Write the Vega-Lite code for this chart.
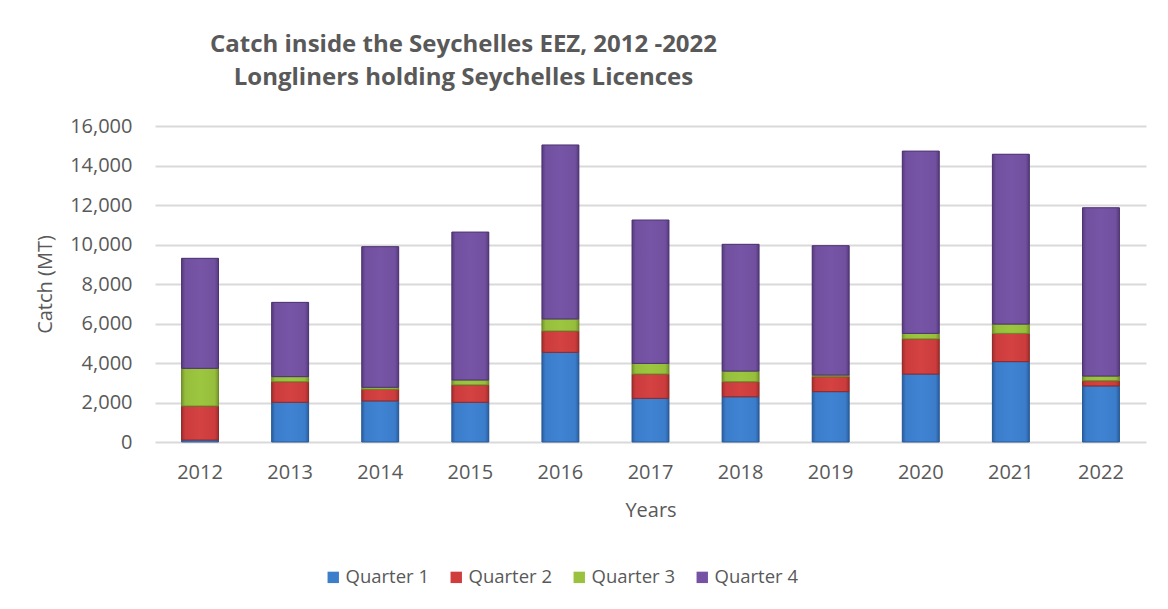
{
  "$schema": "https://vega.github.io/schema/vega-lite/v6.json",
  "width": 991,
  "height": 316,
  "autosize": "none",
  "padding": {"left": 155, "top": 126, "right": 22, "bottom": 167},
  "background": "white",
  "title": {
    "text": ["Catch inside the Seychelles EEZ, 2012 -2022", "Longliners holding Seychelles Licences"],
    "anchor": "middle",
    "dx": -187,
    "offset": 26,
    "font": "Open Sans",
    "fontSize": 24,
    "fontWeight": "bold",
    "color": "#595959",
    "lineHeight": 33
  },
  "data": {
    "values": [
      {"Year": "2012", "Quarter": "Quarter 1", "Catch": 100},
      {"Year": "2012", "Quarter": "Quarter 2", "Catch": 1720},
      {"Year": "2012", "Quarter": "Quarter 3", "Catch": 1910},
      {"Year": "2012", "Quarter": "Quarter 4", "Catch": 5570},
      {"Year": "2013", "Quarter": "Quarter 1", "Catch": 2010},
      {"Year": "2013", "Quarter": "Quarter 2", "Catch": 1040},
      {"Year": "2013", "Quarter": "Quarter 3", "Catch": 260},
      {"Year": "2013", "Quarter": "Quarter 4", "Catch": 3760},
      {"Year": "2014", "Quarter": "Quarter 1", "Catch": 2080},
      {"Year": "2014", "Quarter": "Quarter 2", "Catch": 590},
      {"Year": "2014", "Quarter": "Quarter 3", "Catch": 100},
      {"Year": "2014", "Quarter": "Quarter 4", "Catch": 7120},
      {"Year": "2015", "Quarter": "Quarter 1", "Catch": 2010},
      {"Year": "2015", "Quarter": "Quarter 2", "Catch": 880},
      {"Year": "2015", "Quarter": "Quarter 3", "Catch": 250},
      {"Year": "2015", "Quarter": "Quarter 4", "Catch": 7490},
      {"Year": "2016", "Quarter": "Quarter 1", "Catch": 4540},
      {"Year": "2016", "Quarter": "Quarter 2", "Catch": 1080},
      {"Year": "2016", "Quarter": "Quarter 3", "Catch": 610},
      {"Year": "2016", "Quarter": "Quarter 4", "Catch": 8810},
      {"Year": "2017", "Quarter": "Quarter 1", "Catch": 2210},
      {"Year": "2017", "Quarter": "Quarter 2", "Catch": 1230},
      {"Year": "2017", "Quarter": "Quarter 3", "Catch": 540},
      {"Year": "2017", "Quarter": "Quarter 4", "Catch": 7260},
      {"Year": "2018", "Quarter": "Quarter 1", "Catch": 2290},
      {"Year": "2018", "Quarter": "Quarter 2", "Catch": 760},
      {"Year": "2018", "Quarter": "Quarter 3", "Catch": 540},
      {"Year": "2018", "Quarter": "Quarter 4", "Catch": 6420},
      {"Year": "2019", "Quarter": "Quarter 1", "Catch": 2550},
      {"Year": "2019", "Quarter": "Quarter 2", "Catch": 760},
      {"Year": "2019", "Quarter": "Quarter 3", "Catch": 80},
      {"Year": "2019", "Quarter": "Quarter 4", "Catch": 6550},
      {"Year": "2020", "Quarter": "Quarter 1", "Catch": 3440},
      {"Year": "2020", "Quarter": "Quarter 2", "Catch": 1780},
      {"Year": "2020", "Quarter": "Quarter 3", "Catch": 280},
      {"Year": "2020", "Quarter": "Quarter 4", "Catch": 9230},
      {"Year": "2021", "Quarter": "Quarter 1", "Catch": 4070},
      {"Year": "2021", "Quarter": "Quarter 2", "Catch": 1430},
      {"Year": "2021", "Quarter": "Quarter 3", "Catch": 470},
      {"Year": "2021", "Quarter": "Quarter 4", "Catch": 8600},
      {"Year": "2022", "Quarter": "Quarter 1", "Catch": 2840},
      {"Year": "2022", "Quarter": "Quarter 2", "Catch": 260},
      {"Year": "2022", "Quarter": "Quarter 3", "Catch": 240},
      {"Year": "2022", "Quarter": "Quarter 4", "Catch": 8520}
    ]
  },
  "transform": [
    {"stack": "Catch", "groupby": ["Year"], "sort": [{"field": "Quarter", "order": "ascending"}], "as": ["lo", "hi"]}
  ],
  "encoding": {
    "x": {
      "field": "Year",
      "type": "ordinal",
      "scale": {"paddingInner": 0.59, "paddingOuter": 0.295},
      "axis": {
        "title": "Years",
        "labelAngle": 0,
        "domain": false,
        "ticks": false,
        "labelPadding": 20,
        "titlePadding": 18,
        "labelFont": "Open Sans",
        "labelFontSize": 20,
        "labelColor": "#595959",
        "titleFont": "Open Sans",
        "titleFontSize": 20,
        "titleFontWeight": "normal",
        "titleColor": "#595959"
      }
    },
    "y": {
      "field": "hi",
      "type": "quantitative",
      "scale": {"domain": [0, 16000], "nice": false},
      "axis": {
        "title": "Catch (MT)",
        "values": [0, 2000, 4000, 6000, 8000, 10000, 12000, 14000, 16000],
        "format": ",d",
        "domain": false,
        "ticks": false,
        "labelPadding": 23,
        "titlePadding": 14,
        "gridColor": "#d9d9d9",
        "gridWidth": 2,
        "labelFont": "Open Sans",
        "labelFontSize": 20,
        "labelColor": "#595959",
        "titleFont": "Open Sans",
        "titleFontSize": 20,
        "titleFontWeight": "normal",
        "titleColor": "#595959"
      }
    },
    "y2": {"field": "lo"}
  },
  "layer": [
    {
      "mark": {"type": "bar"},
      "encoding": {
        "color": {
          "field": "Quarter",
          "type": "nominal",
          "scale": {
            "domain": ["Quarter 1", "Quarter 2", "Quarter 3", "Quarter 4"],
            "range": ["#3D7ECB", "#D03D3D", "#9AC23E", "#7652A4"]
          },
          "legend": {
            "title": null,
            "orient": "none",
            "direction": "horizontal",
            "legendX": 169,
            "legendY": 442,
            "symbolType": "square",
            "symbolSize": 130,
            "symbolStrokeWidth": 0,
            "labelFont": "Open Sans",
            "labelFontSize": 18.5,
            "labelColor": "#595959",
            "columnPadding": 17,
            "labelOffset": 3
          }
        }
      }
    },
    {
      "transform": [{"filter": "datum.Quarter === 'Quarter 1'"}],
      "mark": {
        "type": "bar",
        "stroke": "#2A5A94",
        "strokeWidth": 1,
        "fill": {"gradient": "linear", "x1": 0, "x2": 1, "y1": 0, "y2": 0, "stops": [
          {"offset": 0, "color": "#2B5E9E"}, {"offset": 0.1, "color": "#3B7DCB"}, {"offset": 0.5, "color": "#3F83D2"}, {"offset": 0.9, "color": "#3B7DCB"}, {"offset": 1, "color": "#2B5E9E"}]}
      }
    },
    {
      "transform": [{"filter": "datum.Quarter === 'Quarter 2'"}],
      "mark": {
        "type": "bar",
        "stroke": "#8E2A2A",
        "strokeWidth": 1,
        "fill": {"gradient": "linear", "x1": 0, "x2": 1, "y1": 0, "y2": 0, "stops": [
          {"offset": 0, "color": "#A02E2E"}, {"offset": 0.1, "color": "#CC3C3C"}, {"offset": 0.5, "color": "#D44242"}, {"offset": 0.9, "color": "#CC3C3C"}, {"offset": 1, "color": "#A02E2E"}]}
      }
    },
    {
      "transform": [{"filter": "datum.Quarter === 'Quarter 3'"}],
      "mark": {
        "type": "bar",
        "stroke": "#6A8A28",
        "strokeWidth": 1,
        "fill": {"gradient": "linear", "x1": 0, "x2": 1, "y1": 0, "y2": 0, "stops": [
          {"offset": 0, "color": "#76942E"}, {"offset": 0.1, "color": "#96BE3C"}, {"offset": 0.5, "color": "#9CC640"}, {"offset": 0.9, "color": "#96BE3C"}, {"offset": 1, "color": "#76942E"}]}
      }
    },
    {
      "transform": [{"filter": "datum.Quarter === 'Quarter 4'"}],
      "mark": {
        "type": "bar",
        "stroke": "#4E3470",
        "strokeWidth": 1,
        "fill": {"gradient": "linear", "x1": 0, "x2": 1, "y1": 0, "y2": 0, "stops": [
          {"offset": 0, "color": "#563A7C"}, {"offset": 0.1, "color": "#7150A0"}, {"offset": 0.5, "color": "#7755A6"}, {"offset": 0.9, "color": "#7150A0"}, {"offset": 1, "color": "#563A7C"}]}
      }
    }
  ],
  "config": {
    "view": {"stroke": null}
  }
}
